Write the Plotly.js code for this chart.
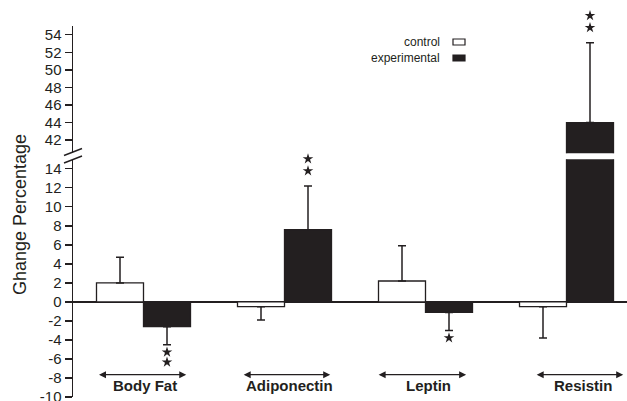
<!DOCTYPE html>
<html>
<head>
<meta charset="utf-8">
<script src="https://cdn.plot.ly/plotly-3.0.1.min.js"></script>
<style>html,body{margin:0;padding:0;background:#fff;}#chart{width:627px;height:401px;}</style>
</head>
<body>
<div id="chart"></div>
<script>
// ---- data ----
const categories = ['Body Fat', 'Adiponectin', 'Leptin', 'Resistin'];
const control = [2.0, -0.5, 2.2, -0.5];
const controlErr = [2.7, 1.4, 3.7, 3.3];
const experimental = [-2.6, 7.6, -1.1, 44.0];
const experimentalErr = [1.9, 4.6, 1.9, 9.1];
const significance = [2, 2, 1, 2]; // number of asterisks at experimental bars
const lowerTicks = [-10, -8, -6, -4, -2, 0, 2, 4, 6, 8, 10, 12, 14];
const upperTicks = [42, 44, 46, 48, 50, 52, 54];
const seriesNames = ['control', 'experimental'];

// ---- styling / geometry ----
const INK = '#231f20';
const FONT = 'Liberation Sans, Arial, Helvetica, sans-serif';
const W = 627, H = 401, L = 73, R = 0, T = 0, B = 4;
const PW = W - L - R, PH = H - T - B;
const px = x => (x - L) / PW;
const py = y => (H - B - y) / PH;

const lowerRange = [-10, 15], upperRange = [40.5, 55];
const lowerTopPx = 159.3, upperBottomPx = 153.3, upperTopPx = 26;
const lowerDomain = [0, py(lowerTopPx)];
const upperDomain = [py(upperBottomPx), py(upperTopPx)];
const lowerScale = (H - B - lowerTopPx) / (lowerRange[1] - lowerRange[0]); // px per unit
const upperScale = (upperBottomPx - upperTopPx) / (upperRange[1] - upperRange[0]);
// full-height continuations of each axis scale (for the significance marks)
const lowerFull = [lowerRange[0], lowerRange[0] + PH / lowerScale];
const upperFull = [upperRange[0] - (H - B - upperBottomPx) / upperScale, upperRange[0] + (upperBottomPx - T) / upperScale];

const plus = (v, e) => v.map((d, i) => d >= 0 ? e[i] : 0);
const minus = (v, e) => v.map((d, i) => d < 0 ? e[i] : 0);
const xs = categories.map((c, i) => i);

const errStyle = {type: 'data', symmetric: false, color: INK, thickness: 1.5, width: 4};
const barW = 1 / 3;

function barTrace(vals, errs, fill, off, yaxis, name) {
  return {
    type: 'bar', x: xs, y: vals, yaxis: yaxis, name: name,
    width: barW, offset: off,
    marker: {color: fill, line: {color: INK, width: 1.3}},
    error_y: Object.assign({}, errStyle, {array: plus(vals, errs), arrayminus: minus(vals, errs)}),
    hoverinfo: 'skip', showlegend: false
  };
}

// significance stars, placed relative to the error bar ends
const starLow = {x: [], y: []}, starUp = {x: [], y: []};
experimental.forEach((v, i) => {
  const up = v >= 0;
  const end = up ? v + experimentalErr[i] : v - experimentalErr[i];
  const onUpper = up && end > lowerRange[1];
  const scale = onUpper ? upperScale : lowerScale;
  for (let k = 0; k < significance[i]; k++) {
    const offPx = up ? (15 + 12 * k) : -(7.5 + 10 * k);
    const tgt = onUpper ? starUp : starLow;
    tgt.x.push(i + barW / 2);
    tgt.y.push(end + offPx / scale);
  }
});
const starStyle = {type: 'scatter', mode: 'markers', hoverinfo: 'skip', showlegend: false, cliponaxis: false,
  marker: {symbol: 'star', size: 8, color: INK, line: {width: 0}}};

const traces = [
  barTrace(control, controlErr, '#ffffff', -barW, 'y', seriesNames[0]),
  barTrace(experimental, experimentalErr, INK, 0, 'y', seriesNames[1]),
  barTrace(experimental, experimentalErr, INK, 0, 'y2', seriesNames[1]),
  Object.assign({}, starStyle, {x: starLow.x, y: starLow.y, yaxis: 'y3'}),
  Object.assign({}, starStyle, {x: starUp.x, y: starUp.y, yaxis: 'y4'})
];

const annotations = [];
// y-axis title
annotations.push({xref: 'paper', yref: 'paper', x: px(20), y: py(215), text: 'Ghange Percentage',
  textangle: -90, showarrow: false, font: {family: FONT, size: 18, color: INK}, xanchor: 'center', yanchor: 'middle'});

// category labels and arrows
const labelX = [0.012, 1.032, 2.02, 3.118];
const arrowSpan = [[-0.326, 0.303], [0.70, 1.324], [1.657, 2.288], [2.778, 3.402]];
categories.forEach((c, i) => {
  annotations.push({x: labelX[i], y: -8.8, xref: 'x', yref: 'y', text: '<b>' + c + '</b>', showarrow: false,
    font: {family: FONT, size: 15, color: INK}, xanchor: 'center', yanchor: 'middle'});
  annotations.push({x: arrowSpan[i][1], y: -7.65, ax: arrowSpan[i][0], ay: -7.65, xref: 'x', yref: 'y',
    axref: 'x', ayref: 'y', text: '', showarrow: true, arrowside: 'end+start', arrowhead: 2,
    arrowsize: 1, arrowwidth: 1.4, arrowcolor: INK, standoff: 0, startstandoff: 0});
});

// legend (symbols to the right of the labels)
const legendRows = [42, 58];
const shapes = [];
seriesNames.forEach((n, i) => {
  annotations.push({xref: 'paper', yref: 'paper', x: px(442), y: py(legendRows[i]), text: n, showarrow: false,
    font: {family: FONT, size: 12, color: INK}, xanchor: 'right', yanchor: 'middle'});
  shapes.push({type: 'rect', xref: 'paper', yref: 'paper', x0: px(453), x1: px(465),
    y0: py(legendRows[i] + 3), y1: py(legendRows[i] - 3),
    fillcolor: i === 0 ? '#ffffff' : INK, line: {color: INK, width: 1.2}});
});

// axis break marks
shapes.push({type: 'line', xref: 'paper', yref: 'paper', x0: px(64), y0: py(155.5), x1: px(82), y1: py(148.5),
  line: {color: INK, width: 1.4}});
shapes.push({type: 'line', xref: 'paper', yref: 'paper', x0: px(64), y0: py(163), x1: px(82), y1: py(156),
  line: {color: INK, width: 1.4}});

const yCommon = {
  showline: true, linecolor: INK, linewidth: 1.5, ticks: 'outside', ticklen: 7, tickwidth: 1.3,
  tickcolor: INK, showgrid: false, tickfont: {family: FONT, size: 15, color: INK},
  tickmode: 'array', fixedrange: true, anchor: 'x', ticklabeloverflow: 'allow'
};
const hiddenY = {visible: false, domain: [0, 1], anchor: 'x', fixedrange: true, showgrid: false, zeroline: false};

const layout = {
  width: W, height: H,
  margin: {l: L, r: R, t: T, b: B, pad: 0},
  paper_bgcolor: '#fff', plot_bgcolor: 'rgba(0,0,0,0)',
  showlegend: false,
  xaxis: {range: [-0.5, -0.5 + PW / 141], visible: false, fixedrange: true, domain: [0, 1]},
  yaxis: Object.assign({}, yCommon, {domain: lowerDomain, range: lowerRange, tickvals: lowerTicks,
    ticktext: lowerTicks.map(String), zeroline: true, zerolinecolor: INK, zerolinewidth: 1.4}),
  yaxis2: Object.assign({}, yCommon, {domain: upperDomain, range: upperRange, tickvals: upperTicks,
    ticktext: upperTicks.map(String), zeroline: false}),
  yaxis3: Object.assign({}, hiddenY, {range: lowerFull}),
  yaxis4: Object.assign({}, hiddenY, {range: upperFull}),
  annotations: annotations,
  shapes: shapes
};

Plotly.newPlot('chart', traces, layout, {staticPlot: true, displayModeBar: false});
</script>
</body>
</html>
